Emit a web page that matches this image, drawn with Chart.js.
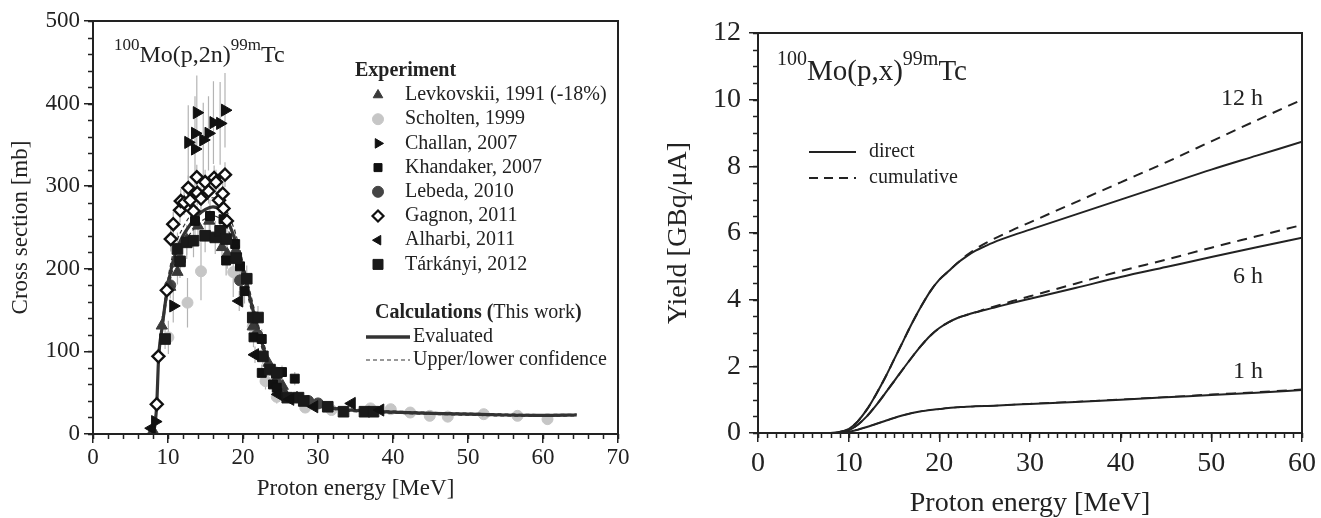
<!DOCTYPE html>
<html>
<head>
<meta charset="utf-8">
<script src="https://cdn.jsdelivr.net/npm/chart.js@4.4.0/dist/chart.umd.min.js"></script>
<style>
  html, body { margin: 0; padding: 0; background: #fff; }
  body { width: 1321px; height: 518px; position: relative; overflow: hidden; }
  #leftBox { position: absolute; left: 0; top: 0; width: 660px; height: 518px; }
  #rightBox { position: absolute; left: 660px; top: 0; width: 661px; height: 518px; }
</style>
</head>
<body>
<div id="leftBox"><canvas id="xsChart"></canvas></div>
<div id="rightBox"><canvas id="yieldChart"></canvas></div>
<script>
// ---------- left panel: 100Mo(p,2n)99mTc cross section ----------
// each point: [energy MeV, cross section mb, error mb]
const levkovskii = [[8.0,4,3],[9.17,131,12],[10.3,178,14],[11.26,196,15],[12.5,235,18],[14.0,252,18],[15.5,258,18],
  [17.2,226,18],[17.9,218,18],[19.0,222,18],[21.3,130,12],[23.4,86,10],[25.3,58,8],[27.2,44,6]];
const scholten = [[10.05,117,20],[12.6,159,30],[14.4,197,35],[18.7,196,30],[21.3,130,15],[23.0,64,10],[24.5,45,8],
  [28.3,32,5],[31.8,29,5],[37.0,31,5],[39.7,30,5],[42.3,26,4],[44.9,22,4],[47.3,21,4],[52.1,24,4],[56.6,22,4],[60.6,18,4]];
const challan = [[8.28,15,8],[10.7,155,20],[12.7,353,45],[13.6,345,45],[13.6,364,45],[13.84,389,45],[14.7,356,45],
  [15.4,364,45],[16.06,377,50],[16.95,376,50],[17.6,392,45]];
const khandaker = [[13.6,258,20],[15.6,264,20],[17.4,260,20],[17.75,210,18],[18.96,230,18],[19.6,203,18],[20.2,173,15],
  [21.4,117,12],[22.5,115,12],[22.5,74,10],[24.0,60,8],[24.5,56,8],[25.2,75,8],[26.9,67,8]];
const lebeda = [[10.3,180,10],[11.6,210,12],[19.6,186,12],[21.9,120,10],[24.5,62,6],[28.7,40,4],[30.0,37,4]];
const gagnon = [[8.5,36,8],[8.72,94,10],[9.84,174,12],[10.37,236,15],[10.7,254,15],[11.6,271,15],[11.7,282,15],
  [12.15,280,15],[12.7,298,15],[12.95,283,15],[13.4,270,15],[13.84,311,15],[13.9,292,15],[14.4,285,15],[14.95,305,15],
  [15.4,294,15],[16.15,310,15],[16.4,305,15],[16.8,283,15],[17.3,291,15],[17.6,314,15],[17.4,273,15],[17.85,258,15]];
const alharbi = [[7.83,7,4],[19.5,161,12],[21.6,96,10],[24.7,48,6],[26.3,42,5],[29.5,33,4],[34.5,37,4],[38.3,29,4]];
const tarkanyi = [[9.61,115,12],[11.26,224,20],[11.6,209,20],[12.5,232,20],[13.4,234,20],[14.95,240,20],[16.3,238,20],
  [16.95,246,20],[17.75,236,20],[19.1,213,18],[20.5,188,16],[21.3,141,14],[22.0,141,14],[22.65,94,10],[23.6,78,8],
  [24.5,74,8],[25.9,44,6],[27.4,44,6],[28.1,40,5],[31.3,33,4],[33.4,27,4],[36.2,27,4],[37.4,27,4]];

const evalEnergy = [8.05,8.3,8.5,8.75,9.2,9.85,10.5,11.2,12,13,14,15,16,17,18,19,20,21,22,23,24,25,26,27,28.5,30,33,36,40,45,50,55,60,64.5];
const evalSigma  = [0,14,36,92,128,172,203,224,240,254,265,272,275,271,257,233,199,162,127,97,74,58,48,42,37,34,30,28,26.5,25,24,23,22.5,23];
const upperSigma = [0,15,38,96,134,180,212,234,250,265,276,283,286,282,267,243,208,170,134,103,79,62,51,44,39,35.5,31.5,29.5,27.8,26.2,25.2,24.2,23.6,24];
const lowerSigma = [0,13,34,88,122,164,194,214,230,243,254,261,264,260,247,223,190,154,120,91,69,54,45,40,35,32.5,28.5,26.5,25.2,23.8,22.8,21.8,21.4,22];

const xsTicksX = [0,10,20,30,40,50,60,70];
const xsTicksY = [0,100,200,300,400,500];

// ---------- right panel: yield ----------
const yieldEnergy = [7,8,9,10,11,12,13,14,15,16,17,18,19,20,21,22,23,24,25,26,28,30,35,40,45,50,55,60];
const direct12h = [0,0,0.03,0.12,0.35,0.7,1.15,1.65,2.2,2.75,3.3,3.8,4.25,4.6,4.85,5.1,5.3,5.47,5.6,5.72,5.92,6.1,6.55,7.0,7.45,7.9,8.32,8.74];
const cumul12h  = [0,0,0.03,0.12,0.35,0.7,1.15,1.65,2.2,2.75,3.3,3.8,4.25,4.6,4.85,5.1,5.33,5.52,5.68,5.82,6.08,6.32,6.92,7.52,8.12,8.75,9.38,10.0];
const direct6h  = [0,0,0.02,0.08,0.25,0.5,0.82,1.18,1.55,1.92,2.28,2.62,2.92,3.15,3.32,3.45,3.54,3.62,3.69,3.76,3.9,4.03,4.35,4.68,4.98,5.28,5.57,5.86];
const cumul6h   = [0,0,0.02,0.08,0.25,0.5,0.82,1.18,1.55,1.92,2.28,2.62,2.92,3.15,3.32,3.45,3.54,3.62,3.71,3.79,3.95,4.1,4.48,4.86,5.2,5.56,5.9,6.24];
const direct1h  = [0,0,0.01,0.04,0.1,0.18,0.27,0.36,0.45,0.53,0.6,0.65,0.69,0.72,0.75,0.77,0.79,0.8,0.81,0.82,0.85,0.87,0.93,1.0,1.07,1.14,1.21,1.29];
const cumul1h   = [0,0,0.01,0.04,0.1,0.18,0.27,0.36,0.45,0.53,0.6,0.65,0.69,0.72,0.75,0.77,0.79,0.8,0.81,0.82,0.85,0.88,0.94,1.01,1.08,1.16,1.23,1.31];

const yieldTicksX = [0,10,20,30,40,50,60];
const yieldTicksY = [0,2,4,6,8,10,12];

const SERIF = "'Liberation Serif', 'Times New Roman', serif";
const INK = '#222';

function pts(arr) { return arr.map(p => ({ x: p[0], y: p[1], err: p[2] })); }
function xy(xs, ys) { return xs.map((x, i) => ({ x: x, y: ys[i] })); }

// small hand-drawn glyphs for the legend
function glyph(ctx, kind, x, y, r, fill, stroke, lw) {
  ctx.save();
  ctx.fillStyle = fill; ctx.strokeStyle = stroke; ctx.lineWidth = lw || 1;
  ctx.beginPath();
  if (kind === 'up') { ctx.moveTo(x, y - r); ctx.lineTo(x + r * 0.87, y + r * 0.5); ctx.lineTo(x - r * 0.87, y + r * 0.5); }
  else if (kind === 'right') { ctx.moveTo(x + r, y); ctx.lineTo(x - r * 0.5, y - r * 0.87); ctx.lineTo(x - r * 0.5, y + r * 0.87); }
  else if (kind === 'left') { ctx.moveTo(x - r, y); ctx.lineTo(x + r * 0.5, y - r * 0.87); ctx.lineTo(x + r * 0.5, y + r * 0.87); }
  else if (kind === 'square') { ctx.rect(x - r, y - r, 2 * r, 2 * r); }
  else if (kind === 'diamond') { ctx.moveTo(x, y - r); ctx.lineTo(x + r, y); ctx.lineTo(x, y + r); ctx.lineTo(x - r, y); }
  else { ctx.arc(x, y, r, 0, Math.PI * 2); }
  ctx.closePath();
  ctx.fill(); ctx.stroke();
  ctx.restore();
}

// text with superscripts: parts = [[text, isSup], ...]
function reaction(ctx, x, y, parts, mainSize, supSize, lift) {
  ctx.save();
  ctx.fillStyle = INK; ctx.textBaseline = 'alphabetic'; ctx.textAlign = 'left';
  parts.forEach(p => {
    ctx.font = (p[1] ? supSize : mainSize) + 'px ' + SERIF;
    ctx.fillText(p[0], x, p[1] ? y - lift : y);
    x += ctx.measureText(p[0]).width;
  });
  ctx.restore();
}

// box around the plot and the short minor ticks
const frame = {
  id: 'frame',
  afterDraw(chart, args, o) {
    const { ctx, chartArea: a, scales: { x, y } } = chart;
    ctx.save();
    ctx.strokeStyle = INK;
    ctx.lineWidth = 1.5;
    ctx.beginPath();
    for (let v = x.min; v <= x.max + 1e-9; v += o.xMinor) {
      const px = Math.round(x.getPixelForValue(v)) + 0.5;
      ctx.moveTo(px, a.bottom); ctx.lineTo(px, a.bottom + o.len);
    }
    for (let v = y.min; v <= y.max + 1e-9; v += o.yMinor) {
      const py = Math.round(y.getPixelForValue(v)) + 0.5;
      ctx.moveTo(a.left, py); ctx.lineTo(a.left - o.len, py);
    }
    ctx.stroke();
    ctx.lineWidth = 2;
    ctx.strokeRect(a.left, a.top, a.right - a.left, a.bottom - a.top);
    ctx.restore();
  }
};

const errorBars = {
  id: 'errorBars',
  beforeDatasetsDraw(chart) {
    const { ctx, chartArea: a, scales: { x, y } } = chart;
    ctx.save();
    ctx.beginPath(); ctx.rect(a.left, a.top, a.right - a.left, a.bottom - a.top); ctx.clip();
    ctx.strokeStyle = '#b4b4b4'; ctx.lineWidth = 1.2;
    chart.data.datasets.forEach(ds => {
      if (!ds.errorBars) return;
      ctx.beginPath();
      ds.data.forEach(p => {
        const px = x.getPixelForValue(p.x);
        ctx.moveTo(px, y.getPixelForValue(p.y - p.err));
        ctx.lineTo(px, y.getPixelForValue(p.y + p.err));
      });
      ctx.stroke();
    });
    ctx.restore();
  }
};

const xsNotes = {
  id: 'xsNotes',
  afterDraw(chart) {
    const ctx = chart.ctx;
    reaction(ctx, 114, 62, [['100', true], ['Mo(p,2n)', false], ['99m', true], ['Tc', false]], 24, 17, 12);
    ctx.save();
    ctx.fillStyle = INK; ctx.textBaseline = 'middle'; ctx.textAlign = 'left';
    ctx.font = 'bold 20px ' + SERIF;
    ctx.fillText('Experiment', 355, 71);
    const rows = [
      ['up', '#3a3a3a', '#3a3a3a', 'Levkovskii, 1991 (-18%)'],
      ['circle', '#c6c6c6', '#c6c6c6', 'Scholten, 1999'],
      ['right', '#111', '#111', 'Challan, 2007'],
      ['square', '#111', '#111', 'Khandaker, 2007'],
      ['circle', '#444', '#444', 'Lebeda, 2010'],
      ['diamond', '#fff', '#111', 'Gagnon, 2011'],
      ['left', '#111', '#111', 'Alharbi, 2011'],
      ['square', '#1a1a1a', '#1a1a1a', 'Tárkányi, 2012']
    ];
    ctx.font = '20px ' + SERIF;
    rows.forEach((r, i) => {
      const yy = 95 + i * 24.2;
      const rad = r[0] === 'square' ? (i === 3 ? 4 : 5) : 5.5;
      glyph(ctx, r[0], 378, yy, rad, r[1], r[2], r[0] === 'diamond' ? 2.2 : 1);
      ctx.fillText(r[3], 405, yy);
    });
    let cx = 375;
    [['Calculations (', 'bold '], ['This work', ''], [')', 'bold ']].forEach(p => {
      ctx.font = p[1] + '20px ' + SERIF;
      ctx.fillText(p[0], cx, 313);
      cx += ctx.measureText(p[0]).width;
    });
    ctx.font = '20px ' + SERIF;
    ctx.fillText('Evaluated', 413, 337);
    ctx.fillText('Upper/lower confidence', 413, 360);
    ctx.strokeStyle = '#333';
    ctx.lineWidth = 3.5;
    ctx.beginPath(); ctx.moveTo(366, 337); ctx.lineTo(410, 337); ctx.stroke();
    ctx.lineWidth = 1.2; ctx.setLineDash([4, 3]);
    ctx.beginPath(); ctx.moveTo(366, 360); ctx.lineTo(410, 360); ctx.stroke();
    ctx.restore();
  }
};

const yieldNotes = {
  id: 'yieldNotes',
  afterDraw(chart) {
    const ctx = chart.ctx;
    reaction(ctx, 117, 80, [['100', true], ['Mo(p,x)', false], ['99m', true], ['Tc', false]], 29, 20, 15);
    ctx.save();
    ctx.fillStyle = INK; ctx.textBaseline = 'middle';
    ctx.font = '24px ' + SERIF; ctx.textAlign = 'right';
    ctx.fillText('12 h', 603, 99);
    ctx.fillText('6 h', 603, 277);
    ctx.fillText('1 h', 603, 372);
    ctx.textAlign = 'left'; ctx.font = '20px ' + SERIF;
    ctx.fillText('direct', 209, 152);
    ctx.fillText('cumulative', 209, 178);
    ctx.strokeStyle = INK; ctx.lineWidth = 2;
    ctx.beginPath(); ctx.moveTo(149, 152); ctx.lineTo(196, 152); ctx.stroke();
    ctx.setLineDash([9, 6]);
    ctx.beginPath(); ctx.moveTo(149, 178); ctx.lineTo(196, 178); ctx.stroke();
    ctx.restore();
  }
};

function axis(min, max, tickVals, size, pad, title, titleSize, titlePad, titleLH, boxSize, horizontal) {
  return {
    type: 'linear', min: min, max: max,
    afterBuildTicks: s => { s.ticks = tickVals.map(v => ({ value: v })); },
    afterFit: s => { if (horizontal) s.height = boxSize; else s.width = boxSize; },
    ticks: { font: { family: SERIF, size: size }, color: INK, padding: pad, maxRotation: 0, autoSkip: false },
    grid: { drawOnChartArea: false, tickLength: 9, color: INK, lineWidth: 1.5 },
    border: { color: INK, width: 2 },
    title: { display: true, text: title, color: INK, font: { family: SERIF, size: titleSize, lineHeight: titleLH }, padding: titlePad }
  };
}

function scatterSet(label, arr, style, rot, radius, fill, stroke, bw, order) {
  return {
    label: label, data: pts(arr), errorBars: true, showLine: false, order: order,
    pointStyle: style, rotation: rot, pointRadius: radius,
    backgroundColor: fill, borderColor: stroke, borderWidth: bw
  };
}

function curveSet(xs, ys, width, dash, color, order) {
  return {
    data: xy(xs, ys), showLine: true, pointRadius: 0, borderColor: color, borderWidth: width,
    borderDash: dash, cubicInterpolationMode: 'monotone', fill: false, order: order
  };
}

new Chart(document.getElementById('xsChart'), {
  type: 'scatter',
  data: {
    datasets: [
      scatterSet('Gagnon, 2011', gagnon, 'rectRot', 0, 6, '#fff', '#111', 2.4, 1),
      scatterSet('Challan, 2007', challan, 'triangle', 90, 7, '#111', '#111', 1, 2),
      scatterSet('Alharbi, 2011', alharbi, 'triangle', -90, 7, '#111', '#111', 1, 2),
      scatterSet('Tárkányi, 2012', tarkanyi, 'rect', 0, 7.5, '#1a1a1a', '#1a1a1a', 1, 3),
      scatterSet('Khandaker, 2007', khandaker, 'rect', 0, 6.3, '#111', '#111', 1, 3),
      scatterSet('Levkovskii, 1991', levkovskii, 'triangle', 0, 6.5, '#3a3a3a', '#3a3a3a', 1, 4),
      scatterSet('Lebeda, 2010', lebeda, 'circle', 0, 5.5, '#444', '#444', 1, 4),
      curveSet(evalEnergy, evalSigma, 3.2, [], '#333', 5),
      curveSet(evalEnergy, upperSigma, 1.2, [4, 3], '#333', 5),
      curveSet(evalEnergy, lowerSigma, 1.2, [4, 3], '#333', 5),
      scatterSet('Scholten, 1999', scholten, 'circle', 0, 5.5, '#c6c6c6', '#c6c6c6', 1, 6)
    ]
  },
  options: {
    responsive: true, maintainAspectRatio: false, animation: false,
    layout: { padding: { left: 0, top: 21, right: 42, bottom: 0 } },
    plugins: { legend: { display: false }, tooltip: { enabled: false }, frame: { xMinor: 2, yMinor: 20, len: 5 } },
    scales: {
      x: axis(0, 70, xsTicksX, 23, 1, 'Proton energy [MeV]', 23, { bottom: 15 }, 1.2, 84, true),
      y: axis(0, 500, xsTicksY, 23, 4, 'Cross section [mb]', 23, { top: 7 }, 1.2, 93, false)
    }
  },
  plugins: [errorBars, frame, xsNotes]
});

new Chart(document.getElementById('yieldChart'), {
  type: 'scatter',
  data: {
    datasets: [
      curveSet(yieldEnergy, direct12h, 2, [], INK, 1),
      curveSet(yieldEnergy, cumul12h, 2, [10, 7], INK, 1),
      curveSet(yieldEnergy, direct6h, 2, [], INK, 1),
      curveSet(yieldEnergy, cumul6h, 2, [10, 7], INK, 1),
      curveSet(yieldEnergy, direct1h, 2, [], INK, 1),
      curveSet(yieldEnergy, cumul1h, 1.5, [10, 7], INK, 1)
    ]
  },
  options: {
    responsive: true, maintainAspectRatio: false, animation: false,
    layout: { padding: { left: 0, top: 33, right: 19, bottom: 0 } },
    plugins: { legend: { display: false }, tooltip: { enabled: false }, frame: { xMinor: 1, yMinor: 0.5, len: 5 } },
    scales: {
      x: axis(0, 60, yieldTicksX, 28, 5, 'Proton energy [MeV]', 28, { bottom: 0 }, 1, 85, true),
      y: axis(0, 12, yieldTicksY, 28, 8, 'Yield [GBq/μA]', 28, { top: 2 }, 1.2, 98, false)
    }
  },
  plugins: [frame, yieldNotes]
});
</script>
</body>
</html>
